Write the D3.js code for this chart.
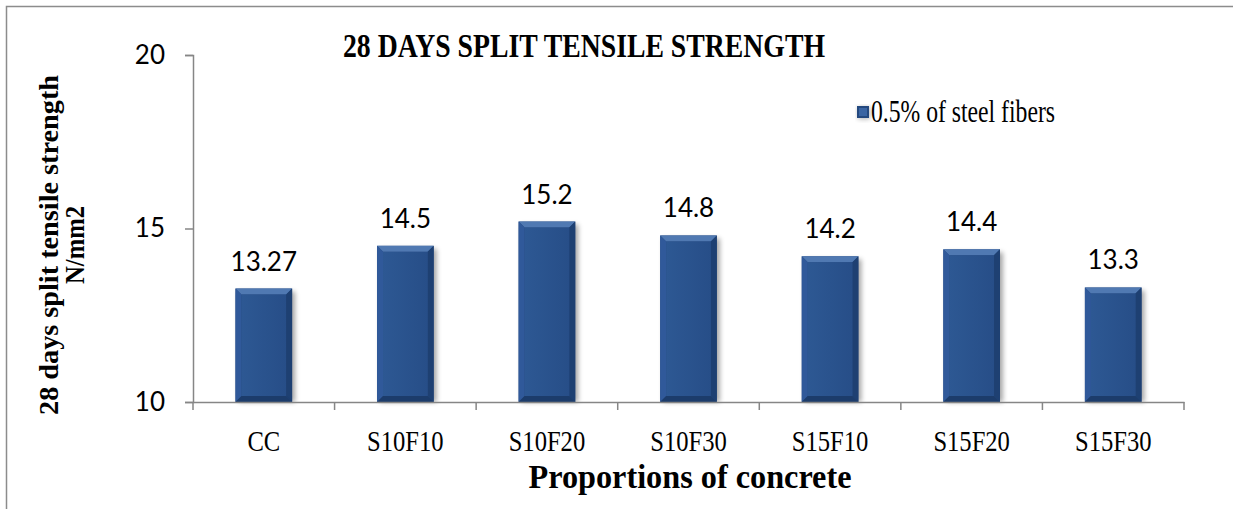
<!DOCTYPE html>
<html><head><meta charset="utf-8">
<script src="https://cdn.jsdelivr.net/npm/d3@7"></script>
<style>html,body{margin:0;padding:0;background:#fff;}svg{display:block;}</style>
</head><body>
<script>
const categories = ["CC","S10F10","S10F20","S10F30","S15F10","S15F20","S15F30"];
const values = [13.27,14.5,15.2,14.8,14.2,14.4,13.3];
const valueLabels = ["13.27","14.5","15.2","14.8","14.2","14.4","13.3"];
const yTicks = [10,15,20];
const seriesName = "0.5% of steel fibers";
const title = "28 DAYS SPLIT TENSILE STRENGTH";
const xTitle = "Proportions of concrete";
const yTitle1 = "28 days split tensile strength";
const yTitle2 = "N/mm2";

const W = 1233, H = 509;
const svg = d3.select("body").append("svg").attr("width", W).attr("height", H);
const defs = svg.append("defs");
const f = defs.append("filter").attr("id","sh").attr("x","-20%").attr("y","-20%").attr("width","150%").attr("height","150%");
f.append("feGaussianBlur").attr("stdDeviation", 2.5);
const g1 = defs.append("linearGradient").attr("id","face").attr("x1",0).attr("x2",1).attr("y1",0).attr("y2",0);
g1.append("stop").attr("offset","0%").attr("stop-color","#2d5893");
g1.append("stop").attr("offset","100%").attr("stop-color","#274e88");

const serif = "'Liberation Serif', 'Times New Roman', serif";
const sans = "Lato, 'Open Sans', sans-serif";

// chart border
svg.append("rect").attr("x",6.5).attr("y",6.5).attr("width",W+20).attr("height",H+20)
  .attr("fill","none").attr("stroke","#8c8c8c").attr("stroke-width",1.5);

const x = d3.scaleBand().domain(categories).range([193,1184]).padding(0);
const y = d3.scaleLinear().domain([10,20]).range([402,55]);
const axisColor = "#868686";

// bars
const bw = x.bandwidth()*0.4;
const bars = svg.append("g").selectAll("g").data(categories).join("g");
const b = 6;
bars.each(function(c,i){
  const gx = d3.select(this);
  const x0 = x(c) + (x.bandwidth()-bw)/2, x1 = x0 + bw;
  const y0 = y(values[i]), y1 = y(10);
  gx.append("rect").attr("x",x0+3).attr("y",y0+3).attr("width",bw).attr("height",y1-y0-3)
    .attr("fill","#000").attr("opacity",0.35).attr("filter","url(#sh)");
  gx.append("rect").attr("x",x0).attr("y",y0).attr("width",bw).attr("height",y1-y0).attr("fill","#24497f");
  const poly = (pts,col)=>gx.append("polygon").attr("points",pts.map(p=>p.join(",")).join(" ")).attr("fill",col);
  poly([[x0,y0],[x1,y0],[x1-b,y0+b],[x0+b,y0+b]],"#5079b2");
  poly([[x0,y0],[x0+b,y0+b],[x0+b,y1-b],[x0,y1]],"#30599a");
  poly([[x1,y0],[x1,y1],[x1-b,y1-b],[x1-b,y0+b]],"#1e4072");
  poly([[x0,y1],[x0+b,y1-b],[x1-b,y1-b],[x1,y1]],"#1c3c6b");
  gx.append("rect").attr("x",x0+b).attr("y",y0+b).attr("width",bw-2*b).attr("height",Math.max(0,y1-y0-2*b)).attr("fill","url(#face)");
  gx.append("text").attr("x",(x0+x1)/2).attr("y",y0-18).attr("text-anchor","middle")
    .attr("font-family",sans).attr("font-size",26).attr("fill","#000")
    .text(valueLabels[i]);
});

// y axis
const ya = svg.append("g").attr("transform","translate(193,0)")
  .call(d3.axisLeft(y).tickValues(yTicks).tickSize(8).tickPadding(20).tickFormat(d3.format("d")));
ya.select(".domain").attr("stroke",axisColor).attr("stroke-width",1.5);
ya.selectAll(".tick line").attr("stroke",axisColor).attr("stroke-width",1.5);
ya.selectAll(".tick text").attr("font-family",sans).attr("font-size",26).attr("fill","#000");

// x axis
const xa = svg.append("g").attr("transform","translate(0,402)")
  .call(d3.axisBottom(x).tickSize(0).tickSizeOuter(0).tickPadding(0));
xa.select(".domain").attr("stroke",axisColor).attr("stroke-width",1.5);
xa.selectAll(".tick line").remove();
xa.selectAll(".tick text").attr("font-family",serif)
  .attr("font-size",30).attr("fill","#000").attr("dy",0).attr("y",49)
  .attr("transform","scale(0.82,1)");
const bounds = [...categories.map(c=>x(c)), x(categories[categories.length-1])+x.bandwidth()];
xa.selectAll("line.sep").data(bounds).join("line").attr("class","sep")
  .attr("x1",d=>d).attr("x2",d=>d).attr("y1",0).attr("y2",8)
  .attr("stroke",axisColor).attr("stroke-width",1.5);

// title
svg.append("text").attr("x",343).attr("y",57).attr("font-family",serif)
  .attr("font-weight","bold").attr("font-size",33).attr("textLength",482).attr("lengthAdjust","spacingAndGlyphs")
  .text(title);

// legend
const lx = 857, ly = 106;
svg.append("rect").attr("x",lx+1).attr("y",ly+1).attr("width",12).attr("height",12).attr("fill","#000").attr("opacity",0.3).attr("filter","url(#sh)");
svg.append("rect").attr("x",lx).attr("y",ly).attr("width",12).attr("height",12).attr("fill","#24497f");
svg.append("rect").attr("x",lx+2).attr("y",ly+2).attr("width",8).attr("height",8).attr("fill","#3a65a3");
svg.append("text").attr("x",871).attr("y",122).attr("font-family",serif)
  .attr("font-size",31).attr("textLength",184).attr("lengthAdjust","spacingAndGlyphs").text(seriesName);

// axis titles
svg.append("text").attr("x",690).attr("y",488).attr("text-anchor","middle").attr("font-family",serif)
  .attr("font-weight","bold").attr("font-size",34).attr("textLength",323).attr("lengthAdjust","spacingAndGlyphs").text(xTitle);
svg.append("text").attr("transform","translate(58,245) rotate(-90)").attr("text-anchor","middle").attr("font-family",serif)
  .attr("font-weight","bold").attr("font-size",28).attr("textLength",340).attr("lengthAdjust","spacingAndGlyphs").text(yTitle1);
svg.append("text").attr("transform","translate(84,245) rotate(-90)").attr("text-anchor","middle").attr("font-family",serif)
  .attr("font-weight","bold").attr("font-size",28).attr("textLength",78).attr("lengthAdjust","spacingAndGlyphs").text(yTitle2);
</script>
</body></html>
